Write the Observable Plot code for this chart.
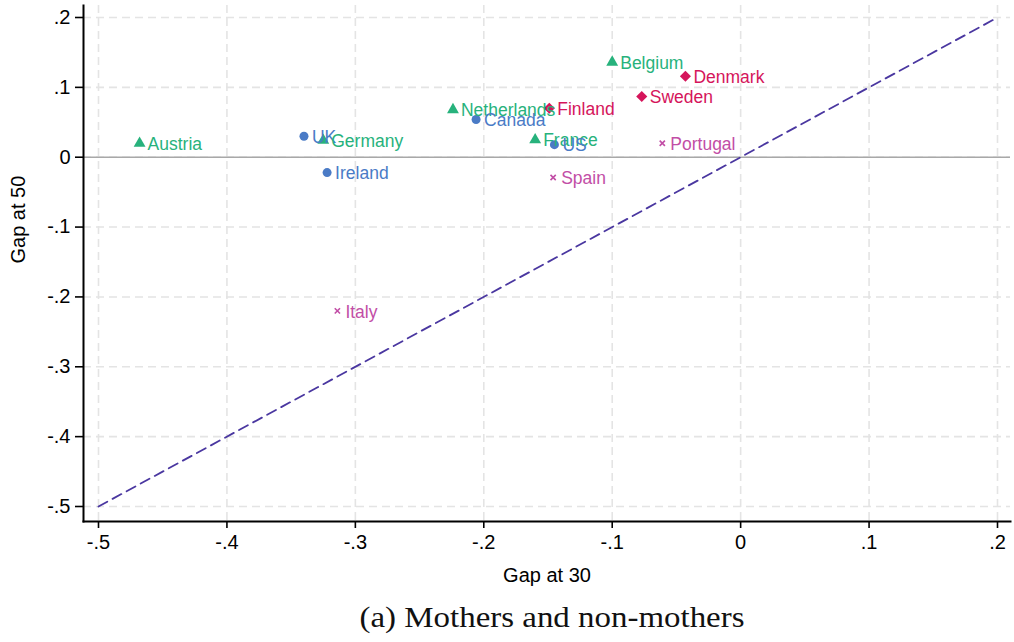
<!DOCTYPE html>
<html>
<head>
<meta charset="utf-8">
<script src="https://cdn.jsdelivr.net/npm/d3@7"></script>
<script src="https://cdn.jsdelivr.net/npm/@observablehq/plot@0.6"></script>
<style>
  html, body { margin: 0; padding: 0; background: #fff; }
  #chart svg { display: block; }
  #caption { display: block; }
</style>
</head>
<body>
<div id="chart"></div>
<svg id="caption" width="1014" height="44">
  <text x="552" y="29" text-anchor="middle" font-family="'Liberation Serif', 'Times New Roman', serif"
        font-size="29" textLength="385" lengthAdjust="spacingAndGlyphs" fill="#111">(a) Mothers and non-mothers</text>
</svg>
<script>
// Gender gap at age 30 vs. at age 50, by country
const countries = ["Austria", "UK", "Germany", "Ireland", "Netherlands", "Canada", "Finland", "France",
                   "US", "Spain", "Belgium", "Denmark", "Sweden", "Portugal", "Italy"];
const gap30 = [-0.468, -0.340, -0.325, -0.322, -0.224, -0.206, -0.149, -0.160,
               -0.145, -0.146, -0.100, -0.043, -0.077, -0.061, -0.314];
const gap50 = [0.020, 0.030, 0.024, -0.022, 0.068, 0.054, 0.070, 0.025,
               0.018, -0.029, 0.136, 0.116, 0.087, 0.020, -0.220];
const regime = ["Continental", "Anglo-Saxon", "Continental", "Anglo-Saxon", "Continental", "Anglo-Saxon",
                "Nordic", "Continental", "Anglo-Saxon", "Southern", "Continental", "Nordic", "Nordic",
                "Southern", "Southern"];

// 45-degree reference line endpoints
const diagonal = [-0.5, 0.2];

// Axis ticks and their labels
const xTicks = [-0.5, -0.4, -0.3, -0.2, -0.1, 0, 0.1, 0.2];
const xTickLabels = ["-.5", "-.4", "-.3", "-.2", "-.1", "0", ".1", ".2"];
const yTicks = [-0.5, -0.4, -0.3, -0.2, -0.1, 0, 0.1, 0.2];
const yTickLabels = ["-.5", "-.4", "-.3", "-.2", "-.1", "0", ".1", ".2"];

// Marker style per group
const groupStyle = {
  "Anglo-Saxon": {color: "#4a7bc6", symbol: "circle", r: 4.5, filled: true},
  "Continental": {color: "#27b27c", symbol: "triangle", r: 4.4, filled: true},
  "Nordic":      {color: "#d5155b", symbol: "diamond2", r: 5.0, filled: true},
  "Southern":    {color: "#c24ea6", symbol: "times", r: 2.5, filled: false}
};

const rows = countries.map((country, i) => ({
  country, gap30: gap30[i], gap50: gap50[i], group: regime[i]
}));

const font = "'Liberation Sans', Arial, Helvetica, sans-serif";

const dotMarks = Object.entries(groupStyle).map(([g, s]) =>
  Plot.dot(rows.filter(d => d.group === g), {
    x: "gap30", y: "gap50", symbol: s.symbol, r: s.r,
    fill: s.filled ? s.color : "none",
    stroke: s.filled ? "none" : s.color,
    strokeWidth: s.filled ? 0 : 1.6
  })
);

const chart = Plot.plot({
  width: 1014,
  height: 598,
  marginLeft: 83,
  marginRight: 4,
  marginTop: 5,
  marginBottom: 77,
  style: {fontFamily: font, background: "#fff"},
  x: {domain: [-0.5, 0.2], insetLeft: 15, insetRight: 13},
  y: {domain: [-0.5, 0.2], insetTop: 12, insetBottom: 15},
  marks: [
    Plot.gridX(xTicks, {stroke: "#e4e4e4", strokeOpacity: 1, strokeWidth: 1.6, strokeDasharray: "8,5"}),
    Plot.gridY(yTicks, {stroke: "#e4e4e4", strokeOpacity: 1, strokeWidth: 1.6, strokeDasharray: "8,5"}),
    Plot.ruleY([0], {stroke: "#a8a8a8", strokeWidth: 1.6}),
    Plot.line(diagonal, {x: d => d, y: d => d, stroke: "#4a37a0", strokeWidth: 1.8, strokeDasharray: "10,6"}),
    ...dotMarks,
    Plot.text(rows, {
      x: "gap30", y: "gap50", text: "country",
      fill: d => groupStyle[d.group].color,
      textAnchor: "start", lineAnchor: "middle", dx: 8, dy: 1,
      fontSize: 17.5, fontFamily: font
    }),
    Plot.axisX(xTicks, {
      tickFormat: d => xTickLabels[xTicks.indexOf(d)],
      tickSize: 7, tickPadding: 6, fontSize: 20, strokeWidth: 1.6, stroke: "#000", fill: "#000",
      label: null
    }),
    Plot.axisY(yTicks, {
      tickFormat: d => yTickLabels[yTicks.indexOf(d)],
      tickSize: 8, tickPadding: 5, fontSize: 20, strokeWidth: 1.6, stroke: "#000", fill: "#000",
      label: null
    }),
    Plot.frame({anchor: "left", stroke: "#000", strokeWidth: 2}),
    Plot.frame({anchor: "bottom", stroke: "#000", strokeWidth: 2}),
    Plot.text(["Gap at 30"], {
      frameAnchor: "bottom", text: d => d, dy: 54, lineAnchor: "middle",
      fontSize: 20, fill: "#000", fontFamily: font
    }),
    Plot.text(["Gap at 50"], {
      frameAnchor: "left", text: d => d, dx: -65, rotate: -90, lineAnchor: "middle",
      fontSize: 20, fill: "#000", fontFamily: font
    })
  ]
});

document.getElementById("chart").appendChild(chart);
</script>
</body>
</html>
